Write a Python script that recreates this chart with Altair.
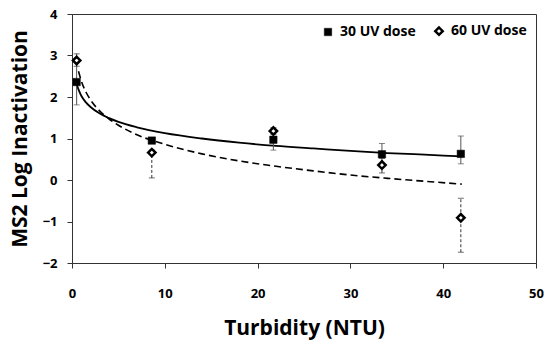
import altair as alt
import pandas as pd

FONT = "Open Sans"

# measured points
turb = [0.5, 8.6, 21.7, 33.4, 41.9]
uv30_y = [2.36, 0.95, 0.97, 0.62, 0.63]
uv30_lo = [1.81, 0.88, 0.72, 0.40, 0.39]
uv30_hi = [2.90, 1.02, 1.22, 0.88, 1.06]
uv60_y = [2.88, 0.66, 1.18, 0.36, -0.91]
uv60_lo = [2.74, 0.05, 1.10, 0.17, -1.74]
uv60_hi = [3.04, 0.72, 1.26, 0.52, -0.44]

# trend curves
curve_x = [0.5, 1, 1.5, 2, 3, 4, 5, 7, 10, 14, 18, 22, 26, 30, 34, 38, 42]
curve30 = [2.30, 2.03, 1.87, 1.76, 1.60, 1.49, 1.40, 1.27, 1.13, 1.00, 0.90, 0.82, 0.76, 0.70, 0.65, 0.61, 0.57]
curve60_x = [0.7, 1, 1.5, 2, 3, 4, 5, 7, 10, 14, 18, 22, 26, 30, 34, 38, 42]
curve60 = [2.62, 2.39, 2.12, 1.93, 1.66, 1.47, 1.32, 1.09, 0.86, 0.63, 0.46, 0.33, 0.22, 0.12, 0.04, -0.03, -0.10]

series = ["30 UV dose", "60 UV dose"]

pts = pd.DataFrame({
    "x": turb * 2,
    "y": uv30_y + uv60_y,
    "lo": uv30_lo + uv60_lo,
    "hi": uv30_hi + uv60_hi,
    "s": [series[0]] * 5 + [series[1]] * 5,
})
c30 = pd.DataFrame({"x": curve_x, "y": curve30})
c60 = pd.DataFrame({"x": curve60_x, "y": curve60})

xs = alt.Scale(domain=[0, 50], nice=False)
ys = alt.Scale(domain=[-2, 4], nice=False)

X = alt.X("x:Q", scale=xs, axis=alt.Axis(
    title="Turbidity (NTU)", values=[0, 10, 20, 30, 40, 50], grid=False,
    tickSize=5, tickColor="#333", domainColor="#333", labelPadding=19,
    labelFont=FONT, labelFontSize=13, labelFontWeight="bold", labelColor="black",
    titleFont=FONT, titleFontSize=21, titleFontWeight="bold", titleColor="black",
    titlePadding=17, labelFlush=False))
Y = alt.Y("y:Q", scale=ys, axis=alt.Axis(
    title="MS2 Log Inactivation", values=[-2, -1, 0, 1, 2, 3, 4], grid=False,
    tickSize=5, tickColor="#333", domainColor="#333", labelPadding=10,
    labelFont=FONT, labelFontSize=13, labelFontWeight="bold", labelColor="black",
    titleFont=FONT, titleFontSize=21, titleFontWeight="bold", titleColor="black",
    titlePadding=12, labelFlush=False))

line30 = alt.Chart(c30).mark_line(color="black", strokeWidth=1.8, interpolate="monotone").encode(x=X, y=Y)
line60 = alt.Chart(c60).mark_line(color="black", strokeWidth=1.6, strokeDash=[7, 4], interpolate="monotone").encode(x=X, y=Y)

d30 = pts[pts.s == series[0]]
d60 = pts[pts.s == series[1]]

err30 = alt.Chart(d30).mark_rule(color="#555", strokeWidth=1).encode(x=X, y="lo:Q", y2="hi:Q")
err60 = alt.Chart(d60).mark_rule(color="#333", strokeWidth=1, strokeDash=[3, 2]).encode(x=X, y="lo:Q", y2="hi:Q")
cap30a = alt.Chart(d30).mark_tick(color="#555", orient="horizontal", size=6, thickness=1).encode(x=X, y=alt.Y("lo:Q", scale=ys))
cap30b = alt.Chart(d30).mark_tick(color="#555", orient="horizontal", size=6, thickness=1).encode(x=X, y=alt.Y("hi:Q", scale=ys))
cap60a = alt.Chart(d60).mark_tick(color="#333", orient="horizontal", size=6, thickness=1).encode(x=X, y=alt.Y("lo:Q", scale=ys))
cap60b = alt.Chart(d60).mark_tick(color="#333", orient="horizontal", size=6, thickness=1).encode(x=X, y=alt.Y("hi:Q", scale=ys))

leg = alt.Legend(title=None, orient="none", direction="horizontal",
                 legendX=249, legendY=10, labelFont=FONT, labelFontSize=14,
                 labelFontWeight="bold", labelColor="black", symbolSize=45,
                 columnPadding=14, labelOffset=5, symbolOffset=0)

points = alt.Chart(pts).mark_point(filled=False, opacity=1).encode(
    x=X, y=Y,
    shape=alt.Shape("s:N", scale=alt.Scale(domain=series, range=["square", "diamond"]), legend=leg),
    fill=alt.Fill("s:N", scale=alt.Scale(domain=series, range=["black", "white"]), legend=leg),
    stroke=alt.Stroke("s:N", scale=alt.Scale(domain=series, range=["black", "black"]), legend=leg),
    strokeWidth=alt.StrokeWidth("s:N", scale=alt.Scale(domain=series, range=[0.5, 2.5]), legend=leg),
    size=alt.Size("s:N", scale=alt.Scale(domain=series, range=[55, 55]), legend=leg),
)

chart = alt.layer(line30, line60, err30, err60, cap30a, cap30b, cap60a, cap60b, points).properties(
    width=464, height=249,
    autosize=alt.AutoSizeParams(type="none"),
    padding={"left": 72, "top": 14, "right": 11, "bottom": 84},
    background="white",
).configure_view(stroke="#333", strokeWidth=1)

chart.save("out.html", embed_options={"renderer": "svg", "actions": False})
